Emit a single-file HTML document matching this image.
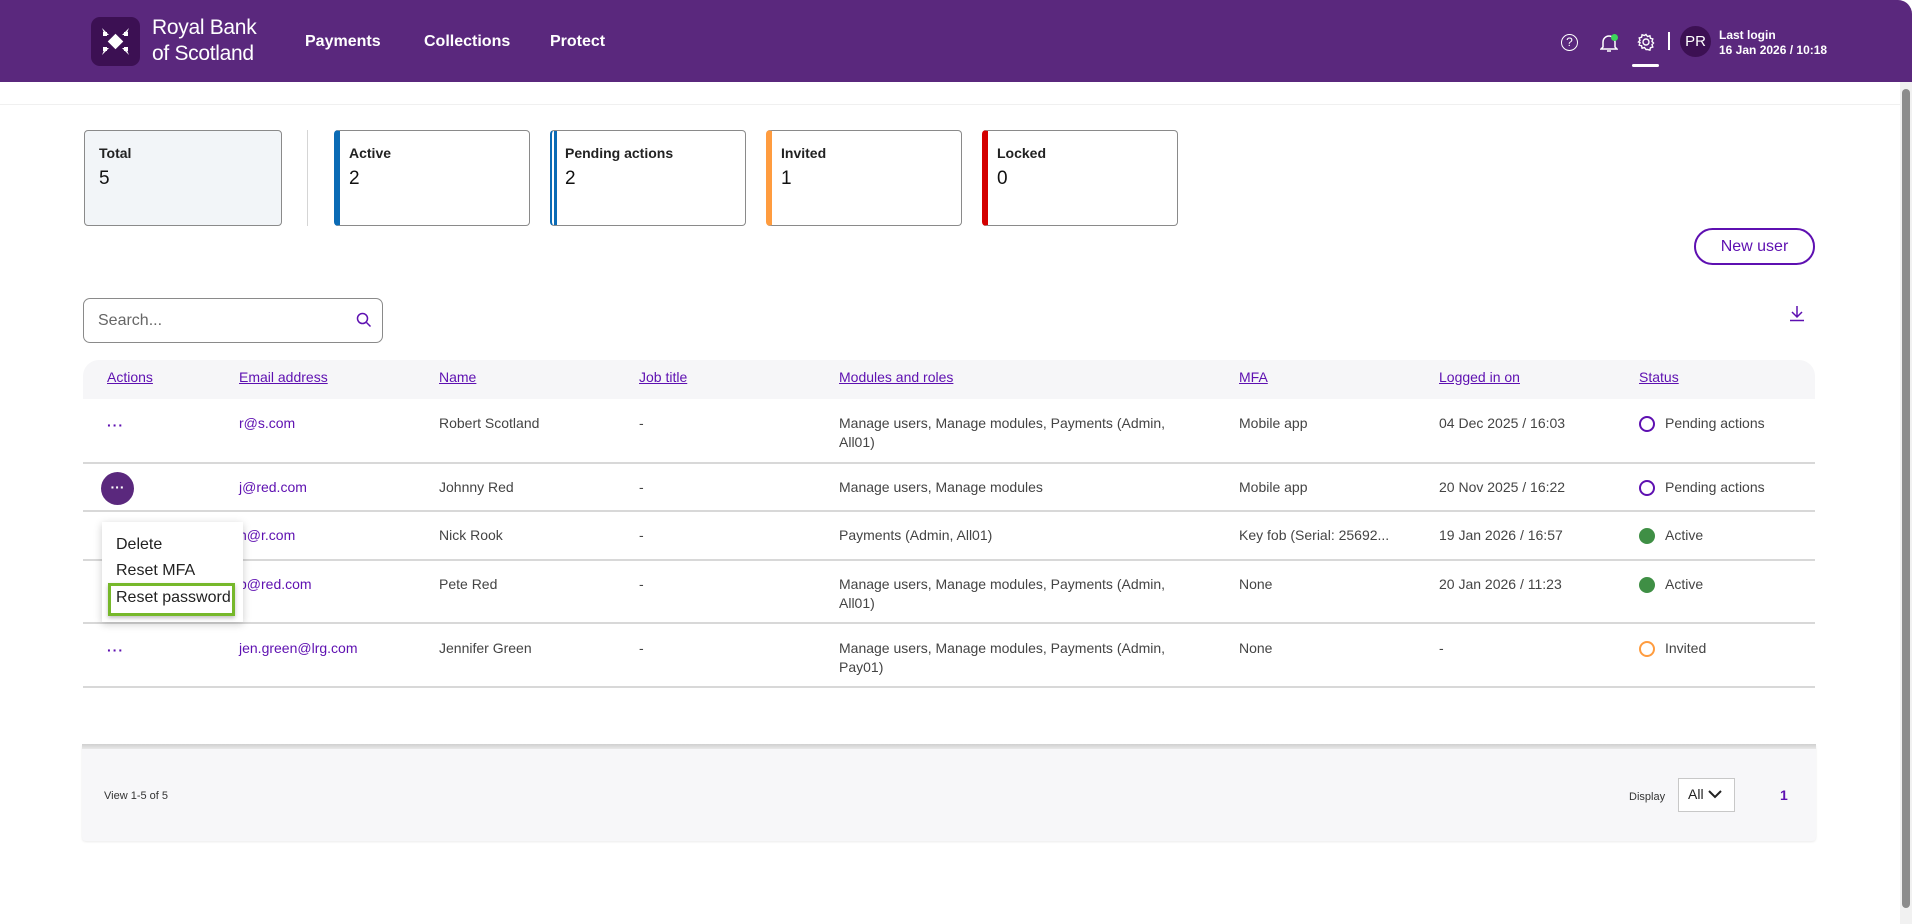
<!DOCTYPE html>
<html><head><meta charset="utf-8">
<style>
*{box-sizing:border-box;margin:0;padding:0}
body{width:1912px;height:924px;overflow:hidden;background:#fff;font-family:"Liberation Sans",sans-serif;color:#3c3c3c;position:relative}
.a{position:absolute;white-space:nowrap}
.hdr{left:0;top:0;width:1912px;height:82px;background:#5a287d;border-top-right-radius:14px}
.nav{color:#fff;font-size:16px;font-weight:bold;top:33px}
.card{top:130px;height:96px;border:1px solid #8a8a8a;border-radius:4px;background:#fff;overflow:hidden}
.card .t{position:absolute;left:14px;top:14px;font-size:14px;font-weight:bold;color:#222}
.card .n{position:absolute;left:14px;top:37px;font-size:19px;color:#111}
.th{top:369px;font-size:14px;color:#5e10b1;text-decoration:underline}
.td{font-size:14px;color:#444;line-height:19px}
.em{color:#5e10b1}
.line{left:83px;width:1732px;height:2px;background:#d8d8d8}
.dots{color:#5e10b1;font-size:14px;font-weight:bold;letter-spacing:1px}
.ring{width:16px;height:16px;border-radius:50%;border:2px solid #5e10b1}
.dot{width:16px;height:16px;border-radius:50%;background:#3f8f45}
</style></head><body>
<div class="a hdr"></div>
<div class="a" style="left:91px;top:17px;width:49px;height:49px;background:#3c1053;border-radius:9px"></div>
<svg class="a" style="left:98px;top:24px" width="35" height="35" viewBox="0 0 35 35" fill="#fff">
<rect x="12" y="12" width="11" height="11" transform="rotate(45 17.5 17.5)"/>
<path d="M4 4l7 7h-4zM31 4l-7 7h4zM4 31l7-7h-4zM31 31l-7-7h4z"/>
<rect x="5" y="8" width="4" height="4"/><rect x="26" y="8" width="4" height="4"/><rect x="5" y="23" width="4" height="4"/><rect x="26" y="23" width="4" height="4"/>
</svg>
<div class="a" style="left:152px;top:15px;color:#fff;font-size:21px;line-height:26px;letter-spacing:-0.3px">Royal Bank<br>of Scotland</div>
<div class="a nav" style="left:305px">Payments</div>
<div class="a nav" style="left:424px">Collections</div>
<div class="a nav" style="left:550px">Protect</div>
<div class="a" style="left:1561px;top:34px;width:17px;height:17px;border:1.5px solid #fff;border-radius:50%;color:#fff;font-size:12px;text-align:center;line-height:14px">?</div>
<svg class="a" style="left:1600px;top:33px" width="18" height="20" viewBox="0 0 18 20" fill="none" stroke="#fff" stroke-width="1.5"><path d="M3 14V9a6 6 0 0 1 12 0v5l2 2H1z"/><path d="M7 18h4"/></svg>
<div class="a" style="left:1611px;top:34px;width:7px;height:7px;border-radius:50%;background:#3dd65a"></div>
<svg class="a" style="left:1637px;top:33px" width="18" height="18" viewBox="0 0 18 18" fill="none" stroke="#fff" stroke-width="1.4"><circle cx="9" cy="9" r="3"/><path d="M9 1.5l1.5 2 2.4-.7.5 2.4 2.4.8-.8 2.4 1.5 1.6-1.5 1.6.8 2.4-2.4.8-.5 2.4-2.4-.7L9 16.5l-1.5-2-2.4.7-.5-2.4-2.4-.8.8-2.4L1.5 9 3 7.4l-.8-2.4 2.4-.8.5-2.4 2.4.7z"/></svg>
<div class="a" style="left:1632px;top:64px;width:27px;height:3px;background:#fff;border-radius:2px"></div>
<div class="a" style="left:1668px;top:32px;width:2px;height:18px;background:#fff"></div>
<div class="a" style="left:1680px;top:26px;width:31px;height:31px;border-radius:50%;background:#3c1053;color:#fff;font-size:15px;text-align:center;line-height:31px">PR</div>
<div class="a" style="left:1719px;top:28px;color:#fff;font-size:12px;font-weight:bold;line-height:15px">Last login<br>16 Jan 2026 / 10:18</div>
<div class="a" style="left:1900px;top:82px;width:12px;height:842px;background:#f1f1f1"></div>
<div class="a" style="left:1902px;top:89px;width:8px;height:819px;background:#8c8c8c;border-radius:4px"></div>
<div class="a" style="left:0;top:104px;width:1900px;height:1px;background:#f0f0f0"></div>

<div class="a card" style="left:84px;width:198px;background:#f2f5f8"><div class="t">Total</div><div class="n">5</div></div>
<div class="a" style="left:307px;top:130px;width:1px;height:96px;background:#d5d5d5"></div>
<div class="a card" style="left:334px;width:196px;border-left:6px solid #0b6bb5"><div class="t" style="left:9px">Active</div><div class="n" style="left:9px">2</div></div>
<div class="a card" style="left:550px;width:196px;border-left:2px solid #0b6bb5"><div class="a" style="left:2px;top:0;width:3px;height:96px;background:#0b6bb5"></div><div class="t" style="left:13px">Pending actions</div><div class="n" style="left:13px">2</div></div>
<div class="a card" style="left:766px;width:196px;border-left:6px solid #ff9c3f"><div class="t" style="left:9px">Invited</div><div class="n" style="left:9px">1</div></div>
<div class="a card" style="left:982px;width:196px;border-left:6px solid #d40000"><div class="t" style="left:9px">Locked</div><div class="n" style="left:9px">0</div></div>

<div class="a" style="left:1694px;top:228px;width:121px;height:37px;border:2px solid #5e10b1;border-radius:19px;color:#5e10b1;font-size:16px;text-align:center;line-height:33px">New user</div>
<div class="a" style="left:83px;top:298px;width:300px;height:45px;border:1px solid #8a8a8a;border-radius:7px"></div>
<div class="a" style="left:98px;top:312px;font-size:16px;color:#666">Search...</div>
<svg class="a" style="left:356px;top:312px" width="16" height="16" viewBox="0 0 16 16" fill="none" stroke="#5e10b1" stroke-width="1.5"><circle cx="6.5" cy="6.5" r="5"/><path d="M10.5 10.5l4 4"/></svg>
<svg class="a" style="left:1789px;top:305px" width="16" height="17" viewBox="0 0 16 17" fill="none" stroke="#5e10b1" stroke-width="1.5"><path d="M8 1v11M3 7l5 5 5-5M1 15.5h14"/></svg>

<div class="a" style="left:83px;top:360px;width:1732px;height:39px;background:#f6f6f8;border-radius:16px 16px 0 0"></div>
<div class="a th" style="left:107px">Actions</div>
<div class="a th" style="left:239px">Email address</div>
<div class="a th" style="left:439px">Name</div>
<div class="a th" style="left:639px">Job title</div>
<div class="a th" style="left:839px">Modules and roles</div>
<div class="a th" style="left:1239px">MFA</div>
<div class="a th" style="left:1439px">Logged in on</div>
<div class="a th" style="left:1639px">Status</div>

<div class="a line" style="top:462px"></div>
<div class="a line" style="top:510px"></div>
<div class="a line" style="top:559px"></div>
<div class="a line" style="top:622px"></div>
<div class="a line" style="top:686px"></div>

<!-- row1 -->
<div class="a dots" style="left:107px;top:417px">···</div>
<div class="a td em" style="left:239px;top:414px">r@s.com</div>
<div class="a td" style="left:439px;top:414px">Robert Scotland</div>
<div class="a td" style="left:639px;top:414px">-</div>
<div class="a td" style="left:839px;top:414px">Manage users, Manage modules, Payments (Admin,<br>All01)</div>
<div class="a td" style="left:1239px;top:414px">Mobile app</div>
<div class="a td" style="left:1439px;top:414px">04 Dec 2025 / 16:03</div>
<div class="a ring" style="left:1639px;top:416px"></div>
<div class="a td" style="left:1665px;top:414px">Pending actions</div>
<!-- row2 -->
<div class="a" style="left:101px;top:472px;width:33px;height:33px;border-radius:50%;background:#5a287d;color:#fff;font-weight:bold;font-size:14px;text-align:center;line-height:30px">···</div>
<div class="a td em" style="left:239px;top:478px">j@red.com</div>
<div class="a td" style="left:439px;top:478px">Johnny Red</div>
<div class="a td" style="left:639px;top:478px">-</div>
<div class="a td" style="left:839px;top:478px">Manage users, Manage modules</div>
<div class="a td" style="left:1239px;top:478px">Mobile app</div>
<div class="a td" style="left:1439px;top:478px">20 Nov 2025 / 16:22</div>
<div class="a ring" style="left:1639px;top:480px"></div>
<div class="a td" style="left:1665px;top:478px">Pending actions</div>
<!-- row3 -->
<div class="a td em" style="left:239px;top:526px">n@r.com</div>
<div class="a td" style="left:439px;top:526px">Nick Rook</div>
<div class="a td" style="left:639px;top:526px">-</div>
<div class="a td" style="left:839px;top:526px">Payments (Admin, All01)</div>
<div class="a td" style="left:1239px;top:526px">Key fob (Serial: 25692...</div>
<div class="a td" style="left:1439px;top:526px">19 Jan 2026 / 16:57</div>
<div class="a dot" style="left:1639px;top:528px"></div>
<div class="a td" style="left:1665px;top:526px">Active</div>
<!-- row4 -->
<div class="a td em" style="left:239px;top:575px">p@red.com</div>
<div class="a td" style="left:439px;top:575px">Pete Red</div>
<div class="a td" style="left:639px;top:575px">-</div>
<div class="a td" style="left:839px;top:575px">Manage users, Manage modules, Payments (Admin,<br>All01)</div>
<div class="a td" style="left:1239px;top:575px">None</div>
<div class="a td" style="left:1439px;top:575px">20 Jan 2026 / 11:23</div>
<div class="a dot" style="left:1639px;top:577px"></div>
<div class="a td" style="left:1665px;top:575px">Active</div>
<!-- row5 -->
<div class="a dots" style="left:107px;top:642px">···</div>
<div class="a td em" style="left:239px;top:639px">jen.green@lrg.com</div>
<div class="a td" style="left:439px;top:639px">Jennifer Green</div>
<div class="a td" style="left:639px;top:639px">-</div>
<div class="a td" style="left:839px;top:639px">Manage users, Manage modules, Payments (Admin,<br>Pay01)</div>
<div class="a td" style="left:1239px;top:639px">None</div>
<div class="a td" style="left:1439px;top:639px">-</div>
<div class="a ring" style="left:1639px;top:641px;border-color:#ff9c3f"></div>
<div class="a td" style="left:1665px;top:639px">Invited</div>

<!-- menu -->
<div class="a" style="left:102px;top:522px;width:141px;height:100px;background:#fff;box-shadow:0 2px 8px rgba(0,0,0,.2)"></div>
<div class="a" style="left:116px;top:536px;font-size:16px;color:#222">Delete</div>
<div class="a" style="left:116px;top:562px;font-size:16px;color:#222">Reset MFA</div>
<div class="a" style="left:108px;top:583px;width:127px;height:33px;border:3px solid #76b82a;box-shadow:0 2px 4px rgba(0,0,0,.25)"></div>
<div class="a" style="left:116px;top:589px;font-size:16px;color:#222">Reset password</div>

<!-- footer -->
<div class="a" style="left:82px;top:745px;width:1734px;height:96px;background:#f7f7f9;border-radius:0 0 4px 4px;box-shadow:0 1px 2px rgba(0,0,0,.08)"></div>
<div class="a" style="left:82px;top:744px;width:1734px;height:5px;background:linear-gradient(#d0d0d0,#e8e8e8)"></div>
<div class="a" style="left:104px;top:790px;font-size:11px;color:#333">View 1-5 of 5</div>
<div class="a" style="left:1629px;top:791px;font-size:11px;color:#333">Display</div>
<div class="a" style="left:1678px;top:778px;width:57px;height:34px;background:#fff;border:1px solid #c8c8c8"></div>
<div class="a" style="left:1688px;top:786px;font-size:14px;color:#222">All</div>
<svg class="a" style="left:1708px;top:790px" width="14" height="9" viewBox="0 0 14 9" fill="none" stroke="#222" stroke-width="2"><path d="M1 1l6 6 6-6"/></svg>
<div class="a" style="left:1780px;top:787px;font-size:14px;font-weight:bold;color:#5e10b1">1</div>
</body></html>
